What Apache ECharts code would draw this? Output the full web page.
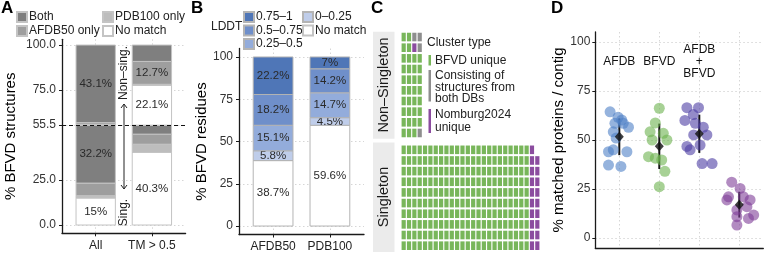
<!DOCTYPE html>
<html>
<head>
<meta charset="utf-8">
<script src="https://cdn.jsdelivr.net/npm/echarts@6/dist/echarts.min.js"></script>
<style>
  html, body { margin: 0; padding: 0; background: #fff; }
  #main { width: 764px; height: 254px; }
</style>
</head>
<body>
<div id="main"></div>
<script>
// ---- A: % BFVD structures (stacks, bottom to top) ----
const structCats = ['All', 'TM > 0.5'];
const structTypes = ['No match', 'PDB100 only', 'AFDB50 only', 'Both'];
const structColors = ['#ffffff', '#bdbdbd', '#9e9e9e', '#7f7f7f'];
const singAll = [15, 1.3, 7.0, 32.2];
const singTM = [40.3, 4.6, 5.6, 5.0];
const nonSingAll = [0, 0.4, 1.0, 43.1];
const nonSingTM = [22.1, 0.6, 12.7, 9.1];
const singCut = 55.5;

// ---- B: % BFVD residues by LDDT ----
const resCats = ['AFDB50', 'PDB100'];
const lddtBins = ['No match', '0–0.25', '0.25–0.5', '0.5–0.75', '0.75–1'];
const lddtColors = ['#ffffff', '#bfcdea', '#93acdb', '#6f8fca', '#4f76b7'];
const resAFDB = [38.7, 5.8, 15.1, 18.2, 22.2];
const resPDB = [59.6, 4.5, 14.7, 14.2, 7];

// ---- C: waffle of clusters (runs in fill order: [type, count]) ----
const clusterTypes = ['BFVD unique', 'Consisting of structures from both DBs', 'Nomburg2024 unique'];
const clusterColors = ['#78b65a', '#8e8e8e', '#8b4c9f'];
const nonSingRuns = [[0, 28], [2, 1], [1, 2], [0, 7], [1, 2]];
const singRuns = [[0, 240], [2, 19]];
const wafRows = 10;

// ---- D: % matched proteins / contig ----
const groups = ['AFDB', 'BFVD', 'AFDB\n+\nBFVD', 'Nomburg\n2024'];
const groupColors = ['#4f80c6', '#6db24f', '#4d3ea3', '#7f3d98'];
const afdbVals = [64.4, 61.6, 60.2, 58.5, 58.5, 56.5, 54.2, 51, 45, 44, 44, 37.2, 36.5];
const afdbJit = [-0.23, -0.03, 0.06, -0.11, 0.1, 0.23, -0.15, -0.08, -0.15, -0.27, 0.19, -0.27, 0.04];
const bfvdVals = [66.2, 58.7, 54.2, 53.4, 50, 50, 41.5, 40.7, 39.8, 34, 26.2];
const bfvdJit = [0, -0.1, -0.23, 0.1, -0.18, 0.19, -0.27, -0.1, 0.06, 0.14, 0];
const bothVals = [66.5, 66.5, 63, 60, 58.5, 56.5, 52.6, 52.6, 47.4, 46.7, 45, 38, 38];
const bothJit = [-0.31, -0.02, -0.15, -0.36, -0.1, 0.1, -0.14, 0.19, 0.02, -0.31, -0.23, 0.07, 0.32];
const nombVals = [28.5, 25.3, 21, 21.1, 19.4, 19.4, 14.3, 16, 11.7, 10.9, 10, 6.6];
const nombJit = [-0.19, 0.02, -0.27, 0.1, -0.31, 0.27, -0.06, 0.19, 0.36, -0.06, 0.23, -0.06];

const FONT = 'Liberation Sans';
const chart = echarts.init(document.getElementById('main'));

const axisLine = { show: true, onZero: false, lineStyle: { color: '#1a1a1a', width: 1.3 } };
const tick = { show: true, length: 3, lineStyle: { color: '#1a1a1a', width: 1 } };
const gridLine = { show: true, lineStyle: { color: '#cccccc', type: [1.5, 2.5], width: 0.8 } };
const hidden = { show: false };

function waffleCells(runs) {
  const cells = [[], [], []];
  let i = 0;
  runs.forEach(([type, n]) => {
    for (let k = 0; k < n; k++, i++) {
      cells[type].push([Math.floor(i / wafRows) + 1, (i % wafRows) + 1]);
    }
  });
  return cells;
}

function stats(vals) {
  const m = vals.reduce((a, b) => a + b, 0) / vals.length;
  const sd = Math.sqrt(vals.reduce((a, b) => a + (b - m) * (b - m), 0) / (vals.length - 1));
  return [m, sd];
}

// stacked bar segment drawn through the axes: data = [x, base, top, value]
function barSeries(name, axis, data, color, border, minLabel, extra) {
  return Object.assign({
    type: 'custom', name: name, xAxisIndex: axis, yAxisIndex: axis, data: data,
    itemStyle: { color: color, borderColor: border, borderWidth: 1 },
    renderItem: (params, api) => {
      const x = api.value(0), v = api.value(3);
      if (!(v > 0)) return null;
      const p0 = api.coord([x - 0.35, api.value(1)]);
      const p1 = api.coord([x + 0.35, api.value(2)]);
      const children = [{
        type: 'rect',
        shape: { x: p0[0], y: p1[1], width: p1[0] - p0[0], height: p0[1] - p1[1] },
        style: { fill: color, stroke: border, lineWidth: 1 }
      }];
      if (v >= minLabel) {
        children.push({
          type: 'text', x: (p0[0] + p1[0]) / 2, y: (p0[1] + p1[1]) / 2,
          style: { text: v + '%', font: '11.5px ' + FONT, fill: '#2a2a2a', align: 'center', verticalAlign: 'middle' }
        });
      }
      return { type: 'group', children: children };
    }
  }, extra || {});
}

const series = [];

// panel A bars
const aTop = [0, 0];
[[singAll, singTM], [nonSingAll, nonSingTM]].forEach((part, pi) => {
  structTypes.forEach((t, k) => {
    const data = [0, 1].map(c => {
      const b = aTop[c];
      aTop[c] += part[c][k];
      return [c + 1, b, aTop[c], part[c][k]];
    });
    const extra = (pi === 0 && k === 0) ? {
      markLine: {
        silent: true, symbol: 'none', label: { show: false },
        lineStyle: { color: '#111', type: [4, 3], width: 1 },
        data: [{ yAxis: singCut }]
      }
    } : null;
    series.push(barSeries(t, 0, data, structColors[k], '#c4c4c4', 10, extra));
  });
});

// panel B bars
const bTop = [0, 0];
lddtBins.forEach((b, k) => {
  const vals = [resAFDB[k], resPDB[k]];
  const data = [0, 1].map(c => {
    const base = bTop[c];
    bTop[c] += vals[c];
    return [c + 1, base, bTop[c], vals[c]];
  });
  series.push(barSeries(b, 1, data, lddtColors[k], '#b4b4b4', 0));
});

// panel C waffles
[nonSingRuns, singRuns].forEach((runs, fi) => {
  const cells = waffleCells(runs);
  cells.forEach((pts, t) => {
    series.push({
      type: 'scatter', name: clusterTypes[t], xAxisIndex: 2 + fi, yAxisIndex: 2 + fi,
      symbol: 'rect', symbolSize: [4.2, 8.6], data: pts,
      itemStyle: { color: clusterColors[t], opacity: 1 }, silent: true
    });
  });
});

// panel D points
const dVals = [afdbVals, bfvdVals, bothVals, nombVals];
const dJit = [afdbJit, bfvdJit, bothJit, nombJit];
dVals.forEach((vals, g) => {
  series.push({
    type: 'scatter', name: groups[g], xAxisIndex: 4, yAxisIndex: 4, symbolSize: 11,
    data: vals.map((v, i) => [g + 1 + dJit[g][i], v]),
    itemStyle: { color: groupColors[g], opacity: 0.6 }
  });
});
const dStats = dVals.map(stats);
series.push({
  type: 'custom', xAxisIndex: 4, yAxisIndex: 4,
  data: dStats.map((s, g) => [g + 1, s[0] - s[1], s[0] + s[1]]),
  renderItem: (params, api) => {
    const a = api.coord([api.value(0), api.value(1)]);
    const b = api.coord([api.value(0), api.value(2)]);
    return { type: 'line', shape: { x1: a[0], y1: a[1], x2: b[0], y2: b[1] }, style: { stroke: '#111', lineWidth: 2 } };
  }
});
series.push({
  type: 'scatter', xAxisIndex: 4, yAxisIndex: 4, symbol: 'diamond', symbolSize: [9, 10],
  data: dStats.map((s, g) => [g + 1, s[0]]), itemStyle: { color: '#111' }
});

const legendBase = {
  orient: 'vertical', icon: 'rect', itemWidth: 10, itemHeight: 10, itemGap: 2, padding: 0,
  selectedMode: false, textStyle: { fontSize: 12, color: '#222', padding: [0, 0, 0, -3] }
};

const option = {
  animation: false,
  textStyle: { fontFamily: FONT },
  title: [
    { text: 'A', left: 1, top: 0, padding: 0, textStyle: { fontSize: 17, fontWeight: 'bold', color: '#000' } },
    { text: 'B', left: 191, top: 0, padding: 0, textStyle: { fontSize: 17, fontWeight: 'bold', color: '#000' } },
    { text: 'C', left: 371, top: 0, padding: 0, textStyle: { fontSize: 17, fontWeight: 'bold', color: '#000' } },
    { text: 'D', left: 551, top: 0, padding: 0, textStyle: { fontSize: 17, fontWeight: 'bold', color: '#000' } },
    { text: 'LDDT', left: 211, top: 21, padding: 0, textStyle: { fontSize: 12, fontWeight: 'normal', color: '#222' } }
  ],
  legend: [
    Object.assign({}, legendBase, { data: ['Both', 'AFDB50 only'], left: 16, top: 11 }),
    Object.assign({}, legendBase, { data: ['PDB100 only', 'No match'], left: 102, top: 11 }),
    Object.assign({}, legendBase, { data: ['0.75–1', '0.5–0.75', '0.25–0.5'], left: 243, top: 11, itemGap: 1.5 }),
    Object.assign({}, legendBase, { data: ['0–0.25', 'No match'], left: 302, top: 11, itemGap: 1.5 })
  ],
  grid: [
    { left: 62, top: 39.3, width: 123.6, height: 194 },
    { left: 239, top: 48.5, width: 125, height: 186 },
    { left: 401, top: 31.7, width: 139, height: 106.6 },
    { left: 401, top: 144.5, width: 139, height: 106.5 },
    { left: 595.3, top: 32, width: 168, height: 216 }
  ],
  xAxis: [
    { gridIndex: 0, type: 'value', min: 0.4, max: 2.6, axisLine: axisLine,
      axisTick: Object.assign({}, tick, { customValues: [1, 2] }),
      axisLabel: { customValues: [1, 2], formatter: v => structCats[v - 1], fontSize: 12, color: '#222', margin: 6 },
      splitLine: gridLine },
    { gridIndex: 1, type: 'value', min: 0.4, max: 2.6, axisLine: axisLine,
      axisTick: Object.assign({}, tick, { customValues: [1, 2] }),
      axisLabel: { customValues: [1, 2], formatter: v => resCats[v - 1], fontSize: 12, color: '#222', margin: 6 },
      splitLine: gridLine },
    { gridIndex: 2, type: 'value', min: 0.5, max: 26.5, show: false },
    { gridIndex: 3, type: 'value', min: 0.5, max: 26.5, show: false },
    { gridIndex: 4, type: 'value', min: 0.4, max: 4.6, axisLine: axisLine,
      axisTick: Object.assign({}, tick, { length: 0, customValues: [1, 2, 3, 4] }),
      axisLabel: { show: false }, splitLine: gridLine },
    { gridIndex: 4, type: 'value', min: 0.4, max: 4.6, position: 'top', axisLine: hidden, axisTick: hidden, splitLine: hidden,
      axisLabel: { inside: true, customValues: [1, 2, 3, 4], formatter: v => groups[v - 1], verticalAlign: 'middle',
        margin: 30, fontSize: 12, lineHeight: 12, color: '#111' } }
  ],
  yAxis: [
    { gridIndex: 0, type: 'value', min: -4.6, max: 103.2, name: '% BFVD structures', nameLocation: 'middle', nameGap: 44,
      nameTextStyle: { fontSize: 15, color: '#000' }, axisLine: axisLine,
      axisTick: Object.assign({}, tick, { customValues: [0, 25, singCut, 75, 100] }),
      axisLabel: { customValues: [0, 25, singCut, 75, 100], formatter: v => v.toFixed(1), fontSize: 12, color: '#333', margin: 6 },
      splitLine: gridLine },
    { gridIndex: 1, type: 'value', min: -5, max: 105, name: '% BFVD residues', nameLocation: 'middle', nameGap: 29,
      nameTextStyle: { fontSize: 15, color: '#000' }, axisLine: axisLine,
      axisTick: Object.assign({}, tick, { customValues: [0, 25, 50, 75, 100] }),
      axisLabel: { customValues: [0, 25, 50, 75, 100], fontSize: 12, color: '#333', margin: 6 },
      splitLine: gridLine },
    { gridIndex: 2, type: 'value', min: 0.5, max: 10.5, show: false },
    { gridIndex: 3, type: 'value', min: 0.5, max: 10.5, show: false },
    { gridIndex: 4, type: 'value', min: -5.1, max: 105.1, name: '% matched proteins / contig', nameLocation: 'middle', nameGap: 29,
      nameTextStyle: { fontSize: 15, color: '#000' }, axisLine: axisLine,
      axisTick: Object.assign({}, tick, { customValues: [0, 25, 50, 75, 100] }),
      axisLabel: { customValues: [0, 25, 50, 75, 100], fontSize: 12, color: '#333', margin: 5 },
      splitLine: gridLine }
  ],
  graphic: [
    // A: singleton / non-singleton annotation
    { type: 'text', x: 124, y: 73, rotation: Math.PI / 2, style: { text: 'Non–sing.', font: '12px ' + FONT, fill: '#222', align: 'center', verticalAlign: 'middle' } },
    { type: 'text', x: 124, y: 212.5, rotation: Math.PI / 2, style: { text: 'Sing.', font: '12px ' + FONT, fill: '#222', align: 'center', verticalAlign: 'middle' } },
    { type: 'line', shape: { x1: 124, y1: 104, x2: 124, y2: 189 }, style: { stroke: '#222', lineWidth: 1 } },
    { type: 'polyline', shape: { points: [[121, 108], [124, 104], [127, 108]] }, style: { stroke: '#222', lineWidth: 1, fill: null } },
    { type: 'polyline', shape: { points: [[121, 185], [124, 189], [127, 185]] }, style: { stroke: '#222', lineWidth: 1, fill: null } },
    // C: facet strips
    { type: 'rect', shape: { x: 373, y: 31.7, width: 21.5, height: 107 }, style: { fill: '#ebebeb' } },
    { type: 'text', x: 384, y: 85, rotation: Math.PI / 2, style: { text: 'Non–Singleton', font: '14.5px ' + FONT, fill: '#1a1a1a', align: 'center', verticalAlign: 'middle' } },
    { type: 'rect', shape: { x: 373, y: 142.5, width: 21.5, height: 109.5 }, style: { fill: '#ebebeb' } },
    { type: 'text', x: 384, y: 197, rotation: Math.PI / 2, style: { text: 'Singleton', font: '14.5px ' + FONT, fill: '#1a1a1a', align: 'center', verticalAlign: 'middle' } },
    // C: legend
    { type: 'text', x: 427, y: 43, style: { text: 'Cluster type', font: '12px ' + FONT, fill: '#222', verticalAlign: 'middle' } },
    { type: 'rect', shape: { x: 428.5, y: 55, width: 2.5, height: 10.5 }, style: { fill: clusterColors[0] } },
    { type: 'text', x: 435, y: 60.5, style: { text: 'BFVD unique', font: '12px ' + FONT, fill: '#222', verticalAlign: 'middle' } },
    { type: 'rect', shape: { x: 428.5, y: 70, width: 2.5, height: 31.5 }, style: { fill: clusterColors[1] } },
    { type: 'text', x: 435, y: 87.3, style: { text: 'Consisting of\nstructures from\nboth DBs', font: '12px ' + FONT, lineHeight: 11.3, fill: '#222', verticalAlign: 'middle' } },
    { type: 'rect', shape: { x: 428.5, y: 109, width: 2.5, height: 24 }, style: { fill: clusterColors[2] } },
    { type: 'text', x: 435, y: 121.3, style: { text: 'Nomburg2024\nunique', font: '12px ' + FONT, lineHeight: 12.5, fill: '#222', verticalAlign: 'middle' } }
  ],
  series: series
};

chart.setOption(option);
</script>
</body>
</html>
